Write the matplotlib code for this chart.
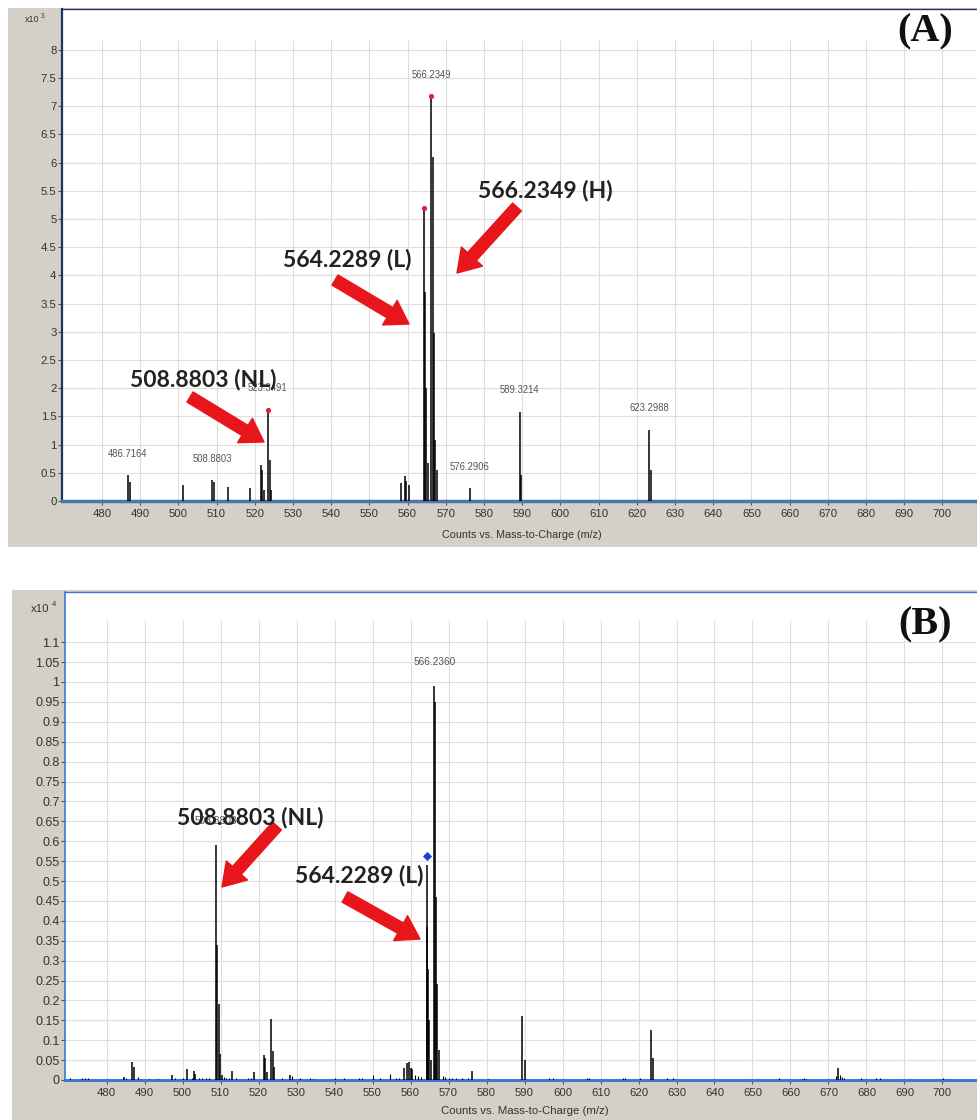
import matplotlib
matplotlib.use('Agg')
import matplotlib.pyplot as plt
from matplotlib.patches import Rectangle, FancyArrowPatch, ArrowStyle
from matplotlib import font_manager as fm
from matplotlib.ticker import FuncFormatter

# ---------------- data ----------------
x_ticks = [480, 490, 500, 510, 520, 530, 540, 550, 560, 570, 580, 590, 600,
           610, 620, 630, 640, 650, 660, 670, 680, 690, 700]

# Panel A  (counts x10^3)
a_yticks = [0, 0.5, 1, 1.5, 2, 2.5, 3, 3.5, 4, 4.5, 5, 5.5, 6, 6.5, 7, 7.5, 8]
a_mz = [486.72, 487.2, 501.2, 508.88, 509.3, 512.9, 518.7, 521.5, 522.0, 522.5,
        523.35, 523.85, 524.3, 558.4, 559.2, 559.7, 560.3, 564.23, 564.55,
        564.9, 565.25, 566.23, 566.55, 566.9, 567.3, 567.7, 576.29, 589.32,
        589.8, 623.30, 623.8]
a_int = [0.46, 0.34, 0.28, 0.37, 0.33, 0.24, 0.23, 0.64, 0.55, 0.20,
         1.62, 0.73, 0.20, 0.32, 0.45, 0.36, 0.28, 5.20, 3.70,
         2.00, 0.67, 7.18, 6.10, 2.98, 1.08, 0.55, 0.23, 1.58,
         0.46, 1.26, 0.55]
a_marked_mz = [523.35, 564.23, 566.23]
a_label_mz = [486.72, 508.88, 523.35, 566.23, 576.29, 589.32, 623.30]
a_label_text = ['486.7164', '508.8803', '523.3491', '566.2349', '576.2906',
                '589.3214', '623.2988']

# Panel B  (counts x10^4)
b_yticks = [0, 0.05, 0.1, 0.15, 0.2, 0.25, 0.3, 0.35, 0.4, 0.45, 0.5, 0.55,
            0.6, 0.65, 0.7, 0.75, 0.8, 0.85, 0.9, 0.95, 1, 1.05, 1.1]
b_mz = [484.6, 486.8, 487.3, 497.2, 501.2, 503.0, 503.4, 508.88, 509.1, 509.6,
        509.9, 510.3, 513.0, 518.8, 521.4, 521.8, 522.3, 523.4, 523.8, 524.2,
        528.3, 558.4, 559.0, 559.5, 560.0, 560.5, 564.23, 564.4, 564.65, 564.95,
        565.3, 566.24, 566.45, 566.7, 567.1, 567.45, 576.2, 589.3, 590.1,
        623.2, 623.9, 672.4]
b_int = [0.008, 0.045, 0.033, 0.012, 0.028, 0.022, 0.015, 0.59, 0.34, 0.19,
         0.065, 0.012, 0.023, 0.020, 0.063, 0.055, 0.020, 0.153, 0.073, 0.033,
         0.012, 0.030, 0.042, 0.045, 0.030, 0.028, 0.54, 0.385, 0.28, 0.15,
         0.05, 0.99, 0.95, 0.46, 0.24, 0.075, 0.023, 0.16, 0.05,
         0.126, 0.055, 0.030]
b_noise_mz = [470.5, 473.5, 474.3, 475.0, 485.2, 488.3, 491.2, 493.5, 498.1,
              500.2, 502.5, 504.3, 505.2, 506.1, 507.0, 510.8, 511.5, 512.2,
              514.1, 517.2, 518.0, 526.1, 528.8, 531.0, 533.5, 534.4, 540.0,
              542.5, 546.5, 547.2, 550.0, 552.0, 554.5, 556.1, 557.0, 561.3,
              562.0, 562.7, 568.5, 569.2, 570.0, 571.0, 572.0, 573.5, 575.0,
              580.5, 596.5, 597.5, 606.5, 607.0, 616.0, 616.5, 620.5, 627.5,
              629.0, 656.9, 663.0, 663.5, 664.0, 672.0, 673.0, 673.6, 674.2,
              678.5, 682.5, 683.5, 700.2]
b_noise_int = [0.004, 0.006, 0.005, 0.004, 0.006, 0.008, 0.003, 0.003, 0.005,
               0.004, 0.004, 0.006, 0.004, 0.004, 0.005, 0.008, 0.006, 0.005,
               0.004, 0.004, 0.005, 0.004, 0.009, 0.004, 0.005, 0.003, 0.005,
               0.004, 0.006, 0.005, 0.012, 0.004, 0.015, 0.006, 0.005, 0.012,
               0.010, 0.008, 0.010, 0.008, 0.006, 0.005, 0.005, 0.004, 0.006,
               0.003, 0.005, 0.006, 0.006, 0.004, 0.005, 0.006, 0.004, 0.005,
               0.004, 0.004, 0.003, 0.004, 0.003, 0.010, 0.012, 0.008, 0.005,
               0.004, 0.004, 0.004, 0.004]
b_marked_mz = [564.23]
b_marked_int = [0.563]
b_label_mz = [508.88, 566.24]
b_label_text = ['508.8803', '566.2360']

# ---------------- layout helpers ----------------
W, H = 978, 1120
fig = plt.figure(figsize=(W / 100, H / 100), dpi=100)
fig.patch.set_facecolor('white')

def fx(px):
    return px / W

def fy(py):
    return 1 - py / H

names = {f.name for f in fm.fontManager.ttflist}
NARROW = 'Liberation Sans Narrow' if 'Liberation Sans Narrow' in names else 'Liberation Sans'
nscale = 1.0 if NARROW == 'Liberation Sans Narrow' else 0.86
BOLD_FONT = 'Lato' if 'Lato' in names else 'DejaVu Sans'
GRAY_BG = '#d4d0c8'
GRID = '#dedede'
TICKC = '#333333'
RED = '#e8161b'


def gray_box(x0, y0, x1, y1):
    fig.add_artist(Rectangle((fx(x0), fy(y1)), (x1 - x0) / W, (y1 - y0) / H,
                             transform=fig.transFigure, facecolor=GRAY_BG,
                             edgecolor='none', zorder=0))


def make_axes(left, top, bottom, xlo, xhi, ytop, yticks, grid_top,
              spine_left, spine_top, spine_bottom, lw_left, lw_bottom, ysize):
    ax = fig.add_axes([fx(left), fy(bottom), (W - left) / W, (bottom - top) / H])
    ax.set_facecolor('white')
    ax.set_xlim(xlo, xhi)
    ax.set_ylim(0, ytop)
    ax.set_xticks(x_ticks)
    ax.set_yticks(yticks)
    ax.yaxis.set_major_formatter(FuncFormatter(lambda v, p: '%g' % round(v, 2)))
    for t in yticks:
        ax.axhline(t, color=GRID, lw=0.8, zorder=0.5)
    ax.vlines(x_ticks, 0, grid_top, color=GRID, lw=0.8, zorder=0.5)
    ax.spines['right'].set_visible(False)
    ax.spines['left'].set_color(spine_left)
    ax.spines['left'].set_linewidth(lw_left)
    ax.spines['top'].set_color(spine_top)
    ax.spines['top'].set_linewidth(1.0)
    ax.spines['bottom'].set_color(spine_bottom)
    ax.spines['bottom'].set_linewidth(lw_bottom)
    ax.tick_params(axis='both', direction='out', length=3, width=0.8,
                   color='#555555', labelcolor=TICKC)
    ax.tick_params(axis='x', pad=3, labelsize=9.5 * nscale)
    ax.tick_params(axis='y', pad=1, labelsize=ysize * nscale)
    for lab in ax.get_xticklabels() + ax.get_yticklabels():
        lab.set_family(NARROW)
    return ax


def arrow(x0, y0, x1, y1):
    p = FancyArrowPatch((fx(x0), fy(y0)), (fx(x1), fy(y1)),
                        transform=fig.transFigure,
                        arrowstyle=ArrowStyle.Simple(head_length=1.6,
                                                     head_width=2.05,
                                                     tail_width=0.85),
                        mutation_scale=10, color=RED, shrinkA=0, shrinkB=0,
                        zorder=20)
    fig.add_artist(p)


def big_text(x, y, s):
    fig.text(fx(x), fy(y), s, ha='left', va='center', fontsize=16.5,
             fontweight='bold', family=BOLD_FONT, color='#222222', zorder=25)


# ---------------- Panel A ----------------
gray_box(8, 8, W, 547)
a_px = 3.82
a_x0 = 480 - (102 - 62) / a_px
a_x1 = a_x0 + (W - 62) / a_px
a_ytop = (501 - 9) / 56.4
axA = make_axes(62, 9, 501, a_x0, a_x1, a_ytop, a_yticks, (501 - 40) / 56.4,
                '#1c3564', '#1c3564', '#4a76b0', 1.6, 2.5, 9.5)
axA.vlines(a_mz, 0, a_int, color='black', lw=1.1, zorder=3)
a_lookup = dict(zip(a_mz, a_int))
axA.scatter(a_marked_mz, [a_lookup[m] for m in a_marked_mz], s=14,
            color='#e0203a', zorder=4, linewidths=0)
for m, t in zip(a_label_mz, a_label_text):
    axA.annotate(t, xy=(m, a_lookup[m]), xytext=(0, 15.5),
                 textcoords='offset points', ha='center', va='center',
                 fontsize=8 * nscale, family=NARROW, color='#555555')
fig.text(fx(25), fy(20), 'x10', fontsize=7.5 * nscale, family=NARROW,
         color=TICKC, ha='left', va='center')
fig.text(fx(41), fy(17), '3', fontsize=5.5 * nscale, family=NARROW,
         color=TICKC, ha='left', va='center')
fig.text(fx(522), fy(535), 'Counts vs. Mass-to-Charge (m/z)', ha='center',
         va='center', fontsize=9 * nscale, family=NARROW, color=TICKC)
fig.text(fx(925), fy(32), '(A)', ha='center', va='center', fontsize=29,
         fontweight='bold', family='Liberation Serif', color='#111111')

big_text(130, 380, '508.8803 (NL)')
big_text(283, 259, '564.2289 (L)')
big_text(478, 190, '566.2349 (H)')
arrow(190, 397, 264, 442)
arrow(335, 280, 409, 324)
arrow(517, 207, 457, 273)

# ---------------- Panel B ----------------
gray_box(12, 590, W, H)
b_px = 3.80
b_x0 = 480 - (106.5 - 65) / b_px
b_x1 = b_x0 + (W - 65) / b_px
b_ytop = (1080 - 592) / 398.0
axB = make_axes(65, 592, 1080, b_x0, b_x1, b_ytop, b_yticks, (1080 - 620) / 398.0,
                '#3c78d8', '#3c78d8', '#3c78d8', 1.2, 2.2, 10.5)
axB.vlines(b_noise_mz, 0, b_noise_int, color='black', lw=0.8, zorder=3)
axB.vlines(b_mz, 0, b_int, color='black', lw=1.1, zorder=3)
axB.scatter(b_marked_mz, b_marked_int, s=22, marker='D', color='#1a3fe0',
            zorder=4, linewidths=0)
b_lookup = dict(zip(b_mz, b_int))
for m, t in zip(b_label_mz, b_label_text):
    axB.annotate(t, xy=(m, b_lookup[m]), xytext=(0, 17.5),
                 textcoords='offset points', ha='center', va='center',
                 fontsize=8.5 * nscale, family=NARROW, color='#555555')
fig.text(fx(31), fy(609), 'x10', fontsize=9.5 * nscale, family=NARROW,
         color=TICKC, ha='left', va='center')
fig.text(fx(52), fy(605), '4', fontsize=6.5 * nscale, family=NARROW,
         color=TICKC, ha='left', va='center')
fig.text(fx(525), fy(1111), 'Counts vs. Mass-to-Charge (m/z)', ha='center',
         va='center', fontsize=9.5 * nscale, family=NARROW, color=TICKC)
fig.text(fx(925), fy(625), '(B)', ha='center', va='center', fontsize=29,
         fontweight='bold', family='Liberation Serif', color='#111111')

big_text(177, 817, '508.8803 (NL)')
big_text(295, 875, '564.2289 (L)')
arrow(277, 826, 222, 887)
arrow(345, 897, 420, 939)

fig.savefig('out.png', dpi=100, facecolor='white')
